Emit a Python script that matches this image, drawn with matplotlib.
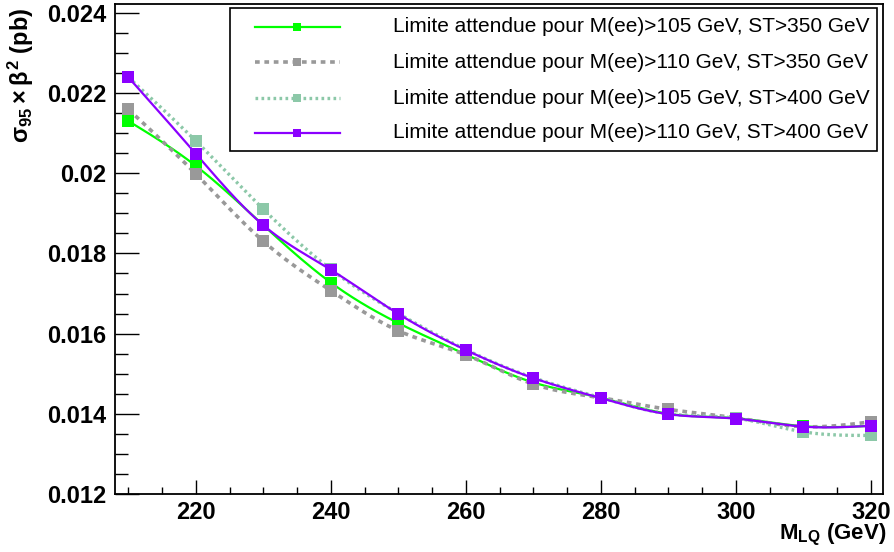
import numpy as np
import matplotlib
matplotlib.use("Agg")
import matplotlib.pyplot as plt
from matplotlib.ticker import MultipleLocator, FixedLocator, FixedFormatter
from matplotlib.patches import Rectangle

# ---------------- data ----------------
mass = [210, 220, 230, 240, 250, 260, 270, 280, 290, 300, 310, 320]
lim_105_350 = [0.02130, 0.02018, 0.01870, 0.01727, 0.01626, 0.01548, 0.01478, 0.01440, 0.01400, 0.01389, 0.01369, 0.01370]
lim_110_350 = [0.02159, 0.01998, 0.01830, 0.01707, 0.01607, 0.01547, 0.01474, 0.01440, 0.01411, 0.01390, 0.01368, 0.01380]
lim_105_400 = [0.02239, 0.02080, 0.01910, 0.01760, 0.01650, 0.01560, 0.01490, 0.01440, 0.01400, 0.01389, 0.01355, 0.01346]
lim_110_400 = [0.02239, 0.02048, 0.01870, 0.01759, 0.01649, 0.01559, 0.01489, 0.01439, 0.01399, 0.01388, 0.01368, 0.01370]

labels = [
    "Limite attendue pour M(ee)>105 GeV, ST>350 GeV",
    "Limite attendue pour M(ee)>110 GeV, ST>350 GeV",
    "Limite attendue pour M(ee)>105 GeV, ST>400 GeV",
    "Limite attendue pour M(ee)>110 GeV, ST>400 GeV",
]
y_ticks = [0.012, 0.014, 0.016, 0.018, 0.020, 0.022, 0.024]
y_tick_labels = ["0.012", "0.014", "0.016", "0.018", "0.02", "0.022", "0.024"]
x_ticks = [220, 240, 260, 280, 300, 320]

series = [lim_105_350, lim_110_350, lim_105_400, lim_110_400]
styles = [
    dict(color="#00ff00", ls="-", lw=1.6),
    dict(color="#999999", ls=(0, (1.3, 1.3)), lw=2.6),
    dict(color="#8cc8a8", ls=(0, (0.8, 1.0)), lw=2.4),
    dict(color="#8b00ff", ls="-", lw=1.6),
]


def natural_spline(x, y, n=25):
    x = np.asarray(x, float)
    y = np.asarray(y, float)
    m = len(x)
    h = np.diff(x)
    A = np.zeros((m, m))
    r = np.zeros(m)
    A[0, 0] = A[-1, -1] = 1.0
    for i in range(1, m - 1):
        A[i, i - 1] = h[i - 1]
        A[i, i] = 2 * (h[i - 1] + h[i])
        A[i, i + 1] = h[i]
        r[i] = 3 * ((y[i + 1] - y[i]) / h[i] - (y[i] - y[i - 1]) / h[i - 1])
    c = np.linalg.solve(A, r)
    xs, ys = [], []
    for i in range(m - 1):
        b = (y[i + 1] - y[i]) / h[i] - h[i] * (2 * c[i] + c[i + 1]) / 3
        d = (c[i + 1] - c[i]) / (3 * h[i])
        t = np.linspace(0, h[i], n, endpoint=(i == m - 2))
        xs.append(x[i] + t)
        ys.append(y[i] + b * t + c[i] * t ** 2 + d * t ** 3)
    return np.concatenate(xs), np.concatenate(ys)


plt.rcParams["font.family"] = ["Liberation Sans", "DejaVu Sans"]
plt.rcParams["mathtext.fontset"] = "custom"
plt.rcParams["mathtext.rm"] = "Liberation Sans:bold"
plt.rcParams["mathtext.it"] = "Liberation Sans:bold"
plt.rcParams["mathtext.bf"] = "Liberation Sans:bold"

W, H = 894, 552
fig = plt.figure(figsize=(W / 100, H / 100), dpi=100)
ax = fig.add_axes([115 / W, (H - 494) / H, 768 / W, 490 / H])

for vals, st in zip(series, styles):
    xs, ys = natural_spline(mass, vals)
    ax.plot(xs, ys, color=st["color"], ls=st["ls"], lw=st["lw"], zorder=2)
    ax.plot(mass, vals, ls="none", marker="s", ms=8.5, color=st["color"],
            markeredgewidth=0, zorder=3)

ax.set_xlim(208.0, 321.8)
ax.set_ylim(0.012, 0.02422)

ax.xaxis.set_major_locator(FixedLocator(x_ticks))
ax.xaxis.set_minor_locator(MultipleLocator(5))
ax.yaxis.set_major_locator(FixedLocator(y_ticks))
ax.yaxis.set_major_formatter(FixedFormatter(y_tick_labels))
ax.yaxis.set_minor_locator(MultipleLocator(0.0005))

ax.tick_params(axis="both", which="both", direction="in", top=False, right=False,
               width=1.0, color="black")
ax.tick_params(axis="x", which="major", length=10, pad=5)
ax.tick_params(axis="x", which="minor", length=5)
ax.tick_params(axis="y", which="major", length=17, pad=6)
ax.tick_params(axis="y", which="minor", length=9)
for lab in ax.get_xticklabels() + ax.get_yticklabels():
    lab.set_fontweight("bold")
    lab.set_fontsize(17)
for sp in ax.spines.values():
    sp.set_linewidth(1.3)

fig.text(886 / W, 1 - 539 / H, r"$\mathrm{M_{LQ}}$ (GeV)", ha="right", va="baseline",
         fontsize=16, fontweight="bold")
fig.text(21 / W, 1 - 8 / H, r"$\sigma_{95} \times \beta^{2}$ (pb)", rotation=90,
         ha="center", va="top", fontsize=17, fontweight="bold")

# ---------------- legend (drawn in pixel overlay) ----------------
ov = fig.add_axes([0, 0, 1, 1])
ov.set_xlim(0, W)
ov.set_ylim(H, 0)
ov.axis("off")
ov.add_patch(Rectangle((230, 8), 647, 143, facecolor="white", edgecolor="black", lw=1.2))
rows = [27, 62, 98, 133]
for yy, st, lab in zip(rows, styles, labels):
    ov.plot([255, 340], [yy, yy], color=st["color"], ls=st["ls"], lw=st["lw"])
    ov.plot([297], [yy], marker="s", ms=5.5, color=st["color"], markeredgewidth=0)
    ov.text(393, yy, lab, ha="left", va="center", fontsize=15)

fig.savefig("out.png", dpi=100)
